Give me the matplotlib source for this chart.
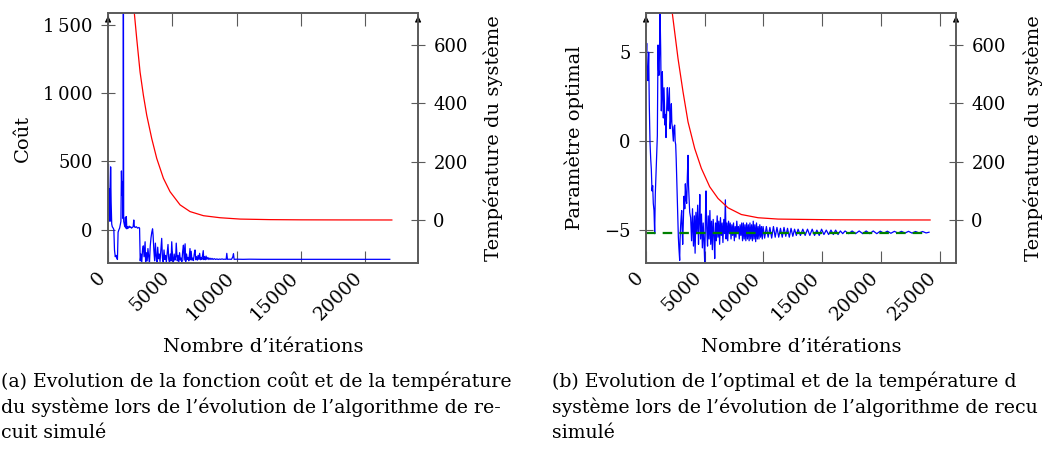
import matplotlib.pyplot as plt
from matplotlib.transforms import ScaledTranslation

plt.rcParams['font.family'] = 'DejaVu Serif'
plt.rcParams['font.size'] = 14
plt.rcParams['xtick.labelsize'] = 13.5
plt.rcParams['ytick.labelsize'] = 13

# --- (a) fonction coût ---
iter_a = [0, 30, 70, 110, 150, 200, 240, 285, 330, 400, 450, 500, 560, 620, 680, 730,
          780, 850, 900, 960, 1000, 1040, 1080, 1120, 1170, 1190, 1215, 1260, 1300, 1350,
          1390, 1420, 1460, 1520, 1580, 1640, 1700, 1760, 1820, 1880, 1950, 2000, 2040,
          2100, 2200, 2300, 2400, 2450, 2500, 2560, 2620, 2680, 2740, 2800, 2880, 2920,
          2980, 3040, 3100, 3160, 3220, 3280, 3340, 3400, 3460, 3500, 3560, 3620, 3680,
          3740, 3800, 3860, 3920, 3980, 4040, 4100, 4170, 4230, 4290, 4350, 4410, 4470,
          4530, 4600, 4660, 4720, 4780, 4840, 4900, 4950, 5020, 5080, 5140, 5200, 5260,
          5300, 5380, 5440, 5500, 5560, 5620, 5680, 5740, 5800, 5860, 5920, 5990, 6040,
          6100, 6160, 6220, 6280, 6370, 6400, 6460, 6520, 6580, 6640, 6700, 6760, 6820,
          6880, 6940, 7000, 7060, 7120, 7180, 7240, 7300, 7400, 7440, 7500, 7560, 7620,
          7680, 7760, 7840, 7920, 8000, 8080, 8160, 8260, 8360, 8460, 8560, 8660, 8760,
          8860, 8960, 9060, 9180, 9230, 9280, 9400, 9600, 9700, 9750, 9800, 10000, 10500,
          11000, 12000, 14000, 16000, 18000, 20000, 21900]
cout = [100, 480, 150, 300, 60, 460, 200, 40, 20, 10, 0, -150, -200, -190, -210, -220,
        -20, 0, 10, 40, 60, 430, 250, 350, 80, 2400, 60, 40, 20, 90,
        10, 95, 5, 20, 10, 25, 15, 20, 10, 15, 20, 70, 25,
        15, 20, 10, 15, 10, -230, -180, -240, -150, -120, -200, -90, -245,
        -170, -230, -140, -200, -245, -120, -60, -20, 5, -40, -150, -230, -100,
        -200, -240, -130, -215, -180, -235, -160, -65, -210, -240, -150, -220, -190,
        -240, -170, -110, -220, -245, -180, -230, -90, -215, -240, -180, -225, -200,
        -100, -230, -190, -240, -170, -225, -210, -235, -160, -115, -225, -105, -235,
        -180, -220, -205, -230, -140, -222, -160, -225, -210, -228, -180, -150, -222,
        -200, -225, -190, -220, -175, -222, -205, -220, -155, -221, -200, -222, -195,
        -220, -205, -221, -210, -220, -212, -220, -214, -220, -216, -220, -217, -219,
        -216, -219, -218, -219, -175, -219, -218, -219, -200, -178, -219, -218, -219,
        -218, -219, -219, -219, -219, -219, -219]

temp_iter_a = [0, 2046, 2229, 2488, 2748, 3007, 3396, 3785, 4303, 4821, 5599, 6376,
               7413, 8709, 10264, 12597, 15000, 18000, 22060]
temp_a = [3050, 707, 621, 507, 427, 359, 279, 211, 143, 97, 52, 29,
          15, 8, 3.4, 1.5, 0.8, 0.5, 0.3]

# --- (b) paramètre optimal ---
iter_b = [0, 57, 110, 170, 227, 280, 341, 400, 454, 510, 568, 620, 681, 738, 790, 852,
          910, 965, 1022, 1065, 1107, 1150, 1192, 1249, 1306, 1350, 1391, 1430, 1476,
          1533, 1575, 1618, 1660, 1703, 1760, 1817, 1860, 1902, 1950, 1988, 2044, 2100,
          2158, 2200, 2243, 2290, 2328, 2380, 2442, 2480, 2527, 2570, 2612, 2669, 2710,
          2754, 2800, 2868, 2900, 2953, 3000, 3038, 3080, 3124, 3180, 3237, 3300, 3351,
          3410, 3464, 3520, 3578, 3620, 3663, 3720, 3800, 3880, 3960, 4040, 4120, 4180,
          4250, 4320, 4400, 4470, 4530, 4580, 4650, 4720, 4800, 4870, 4940, 5000, 5060,
          5110, 5170, 5240, 5300, 5370, 5440, 5510, 5580, 5650, 5720, 5790, 5850, 5920,
          5990, 6060, 6130, 6200, 6270, 6340, 6410, 6480, 6550, 6620, 6690, 6757, 6820,
          6890, 6960, 7030, 7100, 7170, 7240, 7310, 7380, 7450, 7520, 7590, 7660, 7730,
          7800, 7870, 7940, 8010, 8080, 8150, 8220, 8290, 8360, 8430, 8500, 8570, 8640,
          8710, 8780, 8850, 8920, 8990, 9060, 9130, 9200, 9270, 9340, 9410, 9480, 9550,
          9620, 9690, 9760, 9830, 9900, 9970, 10100, 10250, 10400, 10550, 10700, 10850,
          11000, 11150, 11300, 11450, 11600, 11750, 11900, 12050, 12200, 12350, 12500,
          12650, 12800, 12950, 13150, 13350, 13550, 13750, 13950, 14150, 14350, 14550,
          14750, 14950, 15150, 15350, 15550, 15750, 15950, 16150, 16350, 16550, 16750,
          16950, 17250, 17550, 17850, 18150, 18450, 18750, 19050, 19350, 19650, 19950,
          20250, 20550, 20850, 21150, 21450, 21750, 22050, 22350, 22650, 22950, 23250,
          23550, 23850, 24100]
param = [4.0, 5.5, 3.5, 3.4, 5.0, 2.0, -0.1, -1.0, -1.6, -2.8, -2.5, -3.5, -3.9, -5.2, -3.0, -1.8,
         -0.5, 0.3, 5.4, 4.0, 3.7, 5.0, 7.5, 5.2, 1.7, 3.0, 3.9, 2.5, 1.3,
         3.0, 2.0, 0.9, 1.5, 0.2, 1.8, 3.0, 2.0, 1.7, 2.5, 3.0, 0.7, 1.2,
         2.1, 1.0, 0.8, 0.4, 0.0, 0.8, 0.9, 0.0, -0.2, -1.0, -2.0, -3.2, -4.5,
         -5.4, -6.0, -6.7, -5.5, -4.7, -4.2, -3.9, -5.0, -5.8, -4.5, -3.1, -3.8, -2.4,
         -3.3, -3.5, -2.0, -0.8, -2.5, -3.1, -4.0, -4.3, -5.6, -3.8, -5.9, -4.2, -6.3,
         -4.0, -5.2, -3.6, -5.8, -4.4, -3.0, -5.5, -4.1, -6.0, -4.6, -5.7, -6.85, -4.3,
         -2.8, -4.9, -5.9, -4.2, -5.5, -3.9, -5.8, -4.5, -6.1, -4.4, -5.3, -6.6, -4.6,
         -5.6, -4.2, -5.4, -4.5, -5.8, -4.3, -5.3, -4.6, -5.7, -4.4, -5.2, -3.3, -5.5,
         -4.6, -5.6, -4.5, -5.2, -4.6, -5.5, -4.7, -5.3, -4.6, -5.6, -4.8, -5.4, -4.5,
         -5.2, -4.8, -5.5, -4.7, -5.3, -4.6, -5.6, -4.6, -5.5, -4.7, -5.6, -4.6, -5.5,
         -4.7, -5.6, -4.6, -5.5, -4.7, -5.6, -4.5, -5.5, -4.7, -5.65, -4.6, -5.5, -4.8,
         -5.5, -4.7, -5.4, -4.8, -5.5, -4.8, -5.45, -4.8, -5.4, -4.85, -5.45, -4.8,
         -5.4, -4.85, -5.4, -4.9, -5.4, -4.85, -5.35, -4.9, -5.4, -4.9, -5.35,
         -4.95, -5.3, -4.95, -5.3, -4.95, -5.3, -4.95, -5.3, -4.95, -5.3, -5.0,
         -5.3, -4.95, -5.25, -5.0, -5.25, -5.0, -5.25, -5.0, -5.25, -5.05, -5.2,
         -5.05, -5.2, -5.05, -5.2, -5.05, -5.2, -5.05, -5.2, -5.05, -5.2, -5.06,
         -5.18, -5.06, -5.18, -5.07, -5.17, -5.07, -5.17, -5.07, -5.17, -5.08, -5.16,
         -5.08, -5.16, -5.12]

temp_iter_b = [0, 2243, 2726, 3152, 3578, 4146, 4714, 5424, 6133, 6985, 8120, 9540,
               11244, 13231, 16000, 20000, 24190]
temp_b = [2500, 707, 553, 439, 336, 245, 177, 114, 74, 42, 19, 8,
          3.4, 2.3, 1.0, 0.5, 0.3]

optimal_b = -5.15
optimal_iter_b = [0, 24000]

cout_ticks = [0, 500, 1000, 1500]
cout_labels = ['0', '500', '1\u2009000', '1\u2009500']
param_ticks = [-5, 0, 5]
temp_ticks = [0, 200, 400, 600]

gris = '#5a5a5a'


def style_axes(fig, ax, tw):
    for a in (ax, tw):
        for sp in a.spines.values():
            sp.set_color(gris)
            sp.set_linewidth(1.2)
    ax.tick_params(axis='x', direction='in', length=9, color=gris, top=True, pad=4)
    ax.tick_params(axis='y', direction='inout', length=10, color=gris, pad=6)
    tw.tick_params(axis='y', direction='inout', length=10, color=gris, pad=6)
    decale = ScaledTranslation(-0.12, 0, fig.dpi_scale_trans)
    for tick in ax.xaxis.get_major_ticks():
        lbl = tick.label1
        lbl.set_rotation(45)
        lbl.set_ha('right')
        lbl.set_va('top')
        lbl.set_rotation_mode('anchor')
        lbl.set_transform(lbl.get_transform() + decale)
    # flèches en haut des axes verticaux
    for xa in (0, 1):
        ax.annotate('', xy=(xa, 1.0), xytext=(xa, 0.96), xycoords='axes fraction',
                    arrowprops=dict(arrowstyle='-|>', color='black', lw=0.8,
                                    mutation_scale=9), annotation_clip=False)


fig = plt.figure(figsize=(10.46, 4.59), dpi=100)

# (a)
ax1 = fig.add_axes([0.1033, 0.427, 0.2964, 0.5447])
tw1 = ax1.twinx()
ax1.plot(iter_a, cout, color='blue', lw=0.9)
tw1.plot(temp_iter_a, temp_a, color='red', lw=0.9)
ax1.set_xlim(0, 24100)
ax1.set_ylim(-246, 1590)
tw1.set_ylim(-147, 709)
ax1.set_xticks([0, 5000, 10000, 15000, 20000])
ax1.set_yticks(cout_ticks)
ax1.set_yticklabels(cout_labels)
tw1.set_yticks(temp_ticks)
ax1.set_ylabel('Coût')
ax1.yaxis.set_label_coords(-0.245, 0.5)
tw1.set_ylabel('Température du système')
tw1.yaxis.set_label_coords(1.212, 0.5)
ax1.set_xlabel('Nombre d\u2019itérations')
ax1.xaxis.set_label_coords(0.5, -0.30)
style_axes(fig, ax1, tw1)

# (b)
ax2 = fig.add_axes([0.6176, 0.427, 0.2964, 0.5447])
tw2 = ax2.twinx()
ax2.plot(iter_b, param, color='blue', lw=0.9)
ax2.plot(optimal_iter_b, [optimal_b, optimal_b], color='#008000', lw=1.6,
         dashes=(4.3, 3.2))
tw2.plot(temp_iter_b, temp_b, color='red', lw=0.9)
ax2.set_xlim(0, 26400)
ax2.set_ylim(-6.85, 7.2)
tw2.set_ylim(-147, 709)
ax2.set_xticks([0, 5000, 10000, 15000, 20000, 25000])
ax2.set_yticks(param_ticks)
tw2.set_yticks(temp_ticks)
ax2.set_ylabel('Paramètre optimal')
ax2.yaxis.set_label_coords(-0.2, 0.5)
tw2.set_ylabel('Température du système')
tw2.yaxis.set_label_coords(1.219, 0.5)
ax2.set_xlabel('Nombre d\u2019itérations')
ax2.xaxis.set_label_coords(0.5, -0.30)
style_axes(fig, ax2, tw2)

# légendes (sous-figures), telles qu'elles apparaissent dans l'image
cap_a = ['(a) Evolution de la fonction coût et de la température',
         'du système lors de l\u2019évolution de l\u2019algorithme de re-',
         'cuit simulé']
cap_b = ['(b) Evolution de l\u2019optimal et de la température d',
         'système lors de l\u2019évolution de l\u2019algorithme de recu',
         'simulé']
baselines = [387, 413, 438]
for i, yb in enumerate(baselines):
    fig.text(1 / 1046, 1 - yb / 459, cap_a[i], va='baseline', ha='left', fontsize=13.6)
    fig.text(552 / 1046, 1 - yb / 459, cap_b[i], va='baseline', ha='left', fontsize=13.6)

fig.savefig('out.png', dpi=100)
